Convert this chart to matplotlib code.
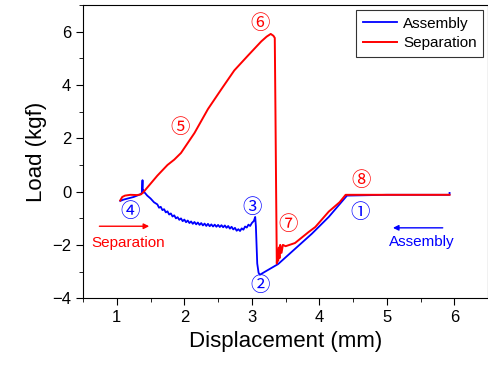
import matplotlib
matplotlib.use("Agg")
import matplotlib.pyplot as plt
from matplotlib.ticker import MultipleLocator

plt.rcParams['font.family'] = ['Liberation Sans', 'DejaVu Sans']

sep_x = [1.05, 1.08, 1.12, 1.2, 1.3, 1.36, 1.4, 1.5, 1.6, 1.75, 1.85, 1.95, 2.15, 2.35, 2.55,
         2.74, 2.94, 3.14, 3.22, 3.28, 3.32, 3.34, 3.35, 3.36, 3.37, 3.38, 3.39, 3.40, 3.41,
         3.42, 3.44, 3.46, 3.5, 3.64, 3.84, 3.94, 4.14, 4.3, 4.39, 4.6, 5.0, 5.5, 5.93]
sep_y = [-0.33, -0.2, -0.15, -0.12, -0.13, -0.1, 0.0, 0.3, 0.6, 1.0, 1.2, 1.45, 2.2, 3.1, 3.85,
         4.55, 5.1, 5.64, 5.82, 5.92, 5.85, 5.77, 3.0, 0.0, -2.7, -2.2, -2.6, -2.1, -2.5,
         -2.0, -2.3, -2.0, -2.05, -1.93, -1.52, -1.33, -0.75, -0.4, -0.12, -0.12, -0.12, -0.12, -0.12]

asm_x = [1.05, 1.1, 1.25, 1.35, 1.37, 1.38, 1.385, 1.39, 1.4, 1.45, 1.5, 1.55,
         1.600, 1.625, 1.650, 1.675, 1.700, 1.725, 1.750, 1.775, 1.800, 1.825, 1.850, 1.875,
         1.900, 1.925, 1.950, 1.975, 2.000, 2.025, 2.050, 2.075, 2.100, 2.125, 2.150, 2.175,
         2.200, 2.225, 2.250, 2.275, 2.300, 2.325, 2.350, 2.375, 2.400, 2.425, 2.450, 2.475,
         2.500, 2.525, 2.550, 2.575, 2.600, 2.625, 2.650, 2.675, 2.700, 2.725, 2.750, 2.775,
         2.800, 2.825, 2.850, 2.875, 2.900, 2.925, 2.950, 2.975, 3.000, 3.030, 3.050,
         3.06, 3.07, 3.08, 3.10, 3.12, 3.2, 3.39, 3.64, 3.89, 4.14, 4.41, 5.0, 5.5, 5.93, 5.93]
asm_y = [-0.35, -0.3, -0.2, -0.1, -0.05, 0.43, -0.05, 0.05, 0.0, -0.15, -0.26, -0.40,
         -0.48, -0.605, -0.57, -0.695, -0.66, -0.78, -0.74, -0.86, -0.82, -0.935, -0.89, -1.005,
         -0.96, -1.06, -1.005, -1.11, -1.05, -1.15, -1.085, -1.18, -1.12, -1.21, -1.14, -1.23,
         -1.16, -1.25, -1.18, -1.27, -1.20, -1.29, -1.21, -1.30, -1.23, -1.31, -1.24, -1.32,
         -1.25, -1.33, -1.26, -1.34, -1.27, -1.36, -1.29, -1.39, -1.32, -1.42, -1.36, -1.47,
         -1.41, -1.48, -1.38, -1.43, -1.31, -1.35, -1.24, -1.29, -1.18, -1.10, -0.95,
         -1.3, -2.0, -2.7, -3.05, -3.12, -3.0, -2.72, -2.15, -1.58, -0.95, -0.15, -0.12, -0.12,
         -0.12, -0.05]

red_labels = ['⑤', '⑥', '⑦', '⑧']
red_lx = [1.94, 3.12, 3.54, 4.62]
red_ly = [2.4, 6.3, -1.24, 0.4]
blue_labels = ['①', '②', '③', '④']
blue_lx = [4.61, 3.13, 3.0, 1.19]
blue_ly = [-0.8, -3.53, -0.6, -0.73]

fig = plt.figure(figsize=(4.89, 3.69), dpi=100)
ax = fig.add_axes([0.17, 0.192, 0.828, 0.794])

ax.plot(asm_x, asm_y, color='#0000ff', lw=1.3, label='Assembly')
ax.plot(sep_x, sep_y, color='#ff0000', lw=1.4, label='Separation')

ax.set_xlim(0.5, 6.5)
ax.set_ylim(-4, 7)
ax.xaxis.set_major_locator(MultipleLocator(1))
ax.xaxis.set_minor_locator(MultipleLocator(0.5))
ax.yaxis.set_major_locator(MultipleLocator(2))
ax.yaxis.set_minor_locator(MultipleLocator(1))
ax.tick_params(which='both', direction='out', top=False, right=False, labelsize=12)
ax.tick_params(which='major', length=5)
ax.tick_params(which='minor', length=3)
ax.set_xlabel('Displacement (mm)', fontsize=16)
ax.set_ylabel('Load (kgf)', fontsize=16)

circ_font = ['Noto Sans CJK JP', 'DejaVu Sans']
for t, x, y in zip(red_labels, red_lx, red_ly):
    ax.text(x, y, t, color='#ff0000', fontsize=14, ha='center', va='center', family=circ_font)
for t, x, y in zip(blue_labels, blue_lx, blue_ly):
    ax.text(x, y, t, color='#0000ff', fontsize=14, ha='center', va='center', family=circ_font)

ax.annotate('', xy=(1.52, -1.3), xytext=(0.7, -1.3),
            arrowprops=dict(arrowstyle='-|>', color='#ff0000', lw=1, mutation_scale=8))
ax.text(1.17, -1.92, 'Separation', color='#ff0000', fontsize=11, ha='center', va='center')
ax.annotate('', xy=(5.05, -1.36), xytext=(5.87, -1.36),
            arrowprops=dict(arrowstyle='-|>', color='#0000ff', lw=1, mutation_scale=8))
ax.text(5.52, -1.88, 'Assembly', color='#0000ff', fontsize=11, ha='center', va='center')

leg = ax.legend(loc='upper right', fontsize=11, frameon=True, fancybox=False,
                edgecolor='black', handlelength=2.2, borderpad=0.45, labelspacing=0.35,
                handletextpad=0.4, borderaxespad=0.3)
leg.get_frame().set_linewidth(0.8)

fig.savefig('out.png', dpi=100)
